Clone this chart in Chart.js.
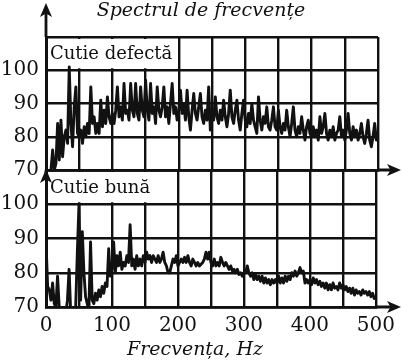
<!DOCTYPE html>
<html>
<head>
<meta charset="utf-8">
<script src="https://cdn.jsdelivr.net/npm/chart.js@4.4.1/dist/chart.umd.min.js"></script>
<style>
html, body { margin: 0; padding: 0; background: #fff; }
#wrap { position: relative; width: 402px; height: 361px; }
#wrap canvas { position: absolute; left: 0; top: 0; }
</style>
</head>
<body>
<div id="wrap">
  <canvas id="cvGood" width="402" height="361"></canvas>
  <canvas id="cvDefect" width="402" height="361"></canvas>
</div>
<script>
// frequency grid, Hz (one reading every 2.5 Hz)
var freqStep = 2.5;
var freqHz = [];
for (var f = 0; f <= 500; f += freqStep) freqHz.push(f);

// levels, one row = 50 Hz
var defectLevel = [
  68, 69, 68, 70, 76, 70, 72, 84, 73, 85, 74, 80, 82, 78, 101, 84, 77, 89, 95, 81,
  80, 82, 78, 83, 80, 84, 81, 95, 84, 86, 81, 84, 81, 91, 83, 88, 84, 92, 86, 84,
  87, 84, 88, 95, 86, 89, 85, 96, 87, 88, 85, 96, 88, 86, 96, 87, 85, 95, 88, 86,
  97, 88, 85, 96, 87, 89, 84, 95, 88, 86, 89, 95, 86, 89, 84, 90, 96, 87, 89, 85,
  88, 94, 87, 90, 85, 94, 86, 82, 88, 93, 87, 85, 89, 93, 86, 84, 88, 85, 95, 82,
  87, 85, 92, 86, 84, 88, 85, 91, 86, 83, 87, 94, 86, 84, 88, 91, 85, 82, 87, 91,
  85, 83, 87, 84, 90, 85, 83, 81, 92, 85, 82, 86, 84, 89, 83, 82, 85, 89, 83, 82,
  88, 83, 81, 84, 82, 88, 83, 80, 84, 89, 82, 80, 83, 81, 86, 82, 79, 83, 85, 81,
  80, 83, 80, 82, 79, 86, 81, 83, 87, 81, 79, 82, 80, 83, 79, 81, 82, 86, 80, 82,
  79, 82, 87, 81, 79, 83, 80, 82, 79, 81, 84, 80, 78, 81, 85, 79, 77, 80, 84, 79,
  81
];

var goodLevel = [
  89, 76, 75, 72, 77, 71, 70, 79, 70, 69, 68, 67.5, 68, 72, 81, 68, 67, 69, 70, 86,
  100, 72, 92, 80, 73, 71, 69, 89, 72, 71, 74, 72, 75, 73, 76, 74, 77, 76, 87, 79,
  81, 89, 80, 85, 82, 86, 81, 83, 82, 85, 83, 94, 82, 84, 81, 85, 82, 84, 82, 85,
  83, 86, 84, 85, 83, 85, 84, 83, 85, 83, 84, 86, 83, 82, 80, 80, 82, 84, 83, 85,
  82, 83, 84, 83, 84.5, 83, 85, 83, 82, 84, 83, 82, 83, 82, 82.5, 83, 84, 86, 84, 86,
  83, 82, 84, 82, 83, 82, 84.5, 83, 82, 83, 82, 81, 82, 80.5, 81, 80, 81, 79.5, 80, 79,
  80, 80, 82, 80, 79, 80, 78, 79.5, 78, 79, 77.5, 79, 77, 78.5, 77, 78, 76.5, 78, 77, 78,
  77, 79, 77, 78.5, 77, 79, 77.5, 79, 78, 80, 79, 80.5, 79, 80, 81.5, 80, 80.5, 77, 78, 77,
  78, 76.5, 78.5, 77, 78, 76.5, 77.5, 76, 77, 75.5, 77, 75, 76.5, 75, 77, 75.5, 76, 75, 77, 75.5,
  76.5, 75, 76, 74.5, 75.5, 74, 75.5, 73.5, 75, 74, 74.5, 73.5, 75, 74, 74.5, 73.5, 74.5, 73, 74, 72.5,
  73
];

var yTickLabels = [70, 80, 90, 100];
var xTickLabels = [0, 100, 200, 300, 400, 500];

var INK = '#111';
var SERIF = '"DejaVu Serif", "Liberation Serif", serif';

function points(vals) {
  return freqHz.map(function (x, i) { return { x: x, y: vals[i] }; });
}

function arrowHead(ctx, tipX, tipY, dir, len, half) {
  ctx.beginPath();
  if (dir === 'up') {
    ctx.moveTo(tipX, tipY);
    ctx.lineTo(tipX - half, tipY + len);
    ctx.lineTo(tipX, tipY + len * 0.75);
    ctx.lineTo(tipX + half, tipY + len);
  } else {
    ctx.moveTo(tipX, tipY);
    ctx.lineTo(tipX - len, tipY - half);
    ctx.lineTo(tipX - len * 0.75, tipY);
    ctx.lineTo(tipX - len, tipY + half);
  }
  ctx.closePath();
  ctx.fill();
}

// panel label, titles and the axis arrows of the scan
var decor = {
  id: 'decor',
  beforeDatasetsDraw: function (chart, args, o) {
    var ctx = chart.ctx, a = chart.chartArea;
    var y100 = chart.scales.y.getPixelForValue(100);
    ctx.save();
    ctx.fillStyle = '#fff';
    ctx.fillRect(a.left + 2, a.top + 2, o.boxWidth, y100 - a.top - 4);
    ctx.fillStyle = INK;
    ctx.font = '18px ' + SERIF;
    ctx.textBaseline = 'middle';
    ctx.fillText(o.label, a.left + 4, (a.top + y100) / 2 + 1);
    ctx.restore();
  },
  afterDraw: function (chart, args, o) {
    var ctx = chart.ctx, a = chart.chartArea;
    ctx.save();
    ctx.strokeStyle = INK;
    ctx.fillStyle = INK;
    ctx.lineWidth = 2.8;
    ctx.beginPath();
    ctx.moveTo(a.left, a.top);
    ctx.lineTo(a.left, o.arrowTop + 6);
    ctx.moveTo(a.right, a.bottom);
    ctx.lineTo(394, a.bottom);
    ctx.stroke();
    arrowHead(ctx, a.left, o.arrowTop, 'up', 14, 6);
    arrowHead(ctx, 401, a.bottom, 'right', 14, 6);
    ctx.font = 'italic 19px ' + SERIF;
    ctx.textAlign = 'center';
    ctx.textBaseline = 'alphabetic';
    if (o.title) ctx.fillText(o.title, 201, 16);
    if (o.xTitle) ctx.fillText(o.xTitle, 195, 355);
    ctx.restore();
  }
};

function panelChart(id, vals, cfg) {
  return new Chart(document.getElementById(id), {
    type: 'line',
    data: {
      datasets: [{
        data: points(vals),
        borderColor: INK,
        borderWidth: 2.9,
        borderJoinStyle: 'round',
        pointRadius: 0,
        fill: false
      }]
    },
    plugins: [decor],
    options: {
      responsive: false,
      animation: false,
      devicePixelRatio: 1,
      layout: { padding: { top: cfg.top, right: 24, left: 0, bottom: 0 } },
      plugins: {
        legend: { display: false },
        tooltip: { enabled: false },
        decor: {
          label: cfg.label, boxWidth: cfg.boxWidth, arrowTop: cfg.arrowTop,
          title: cfg.title, xTitle: cfg.xTitle
        }
      },
      scales: {
        x: {
          type: 'linear',
          min: 0,
          max: 500,
          afterFit: function (s) { s.height = cfg.xHeight; },
          grid: { color: INK, lineWidth: 2.4, drawTicks: false },
          border: { color: INK, width: 2.8 },
          ticks: {
            display: cfg.showX,
            stepSize: 50,
            autoSkip: false,
            maxRotation: 0,
            padding: 7,
            color: INK,
            font: { family: SERIF, size: 20 },
            callback: function (v) { return xTickLabels.indexOf(v) >= 0 ? String(v) : ''; }
          }
        },
        y: {
          min: 70,
          max: 110,
          afterFit: function (s) { s.width = 46; },
          grid: { color: INK, lineWidth: 2.4, drawTicks: false },
          border: { color: INK, width: 3 },
          ticks: {
            stepSize: 10,
            padding: 7,
            color: INK,
            font: { family: SERIF, size: 20 },
            callback: function (v) { return yTickLabels.indexOf(v) >= 0 ? String(v) : ''; }
          }
        }
      }
    }
  });
}

panelChart('cvGood', goodLevel, {
  top: 170, xHeight: 54, showX: true, label: 'Cutie bună', boxWidth: 122, arrowTop: 169,
  xTitle: 'Frecvența, Hz'
});
panelChart('cvDefect', defectLevel, {
  top: 37, xHeight: 191, showX: false, label: 'Cutie defectă', boxWidth: 128, arrowTop: 3,
  title: 'Spectrul de frecvențe'
});
</script>
</body>
</html>
